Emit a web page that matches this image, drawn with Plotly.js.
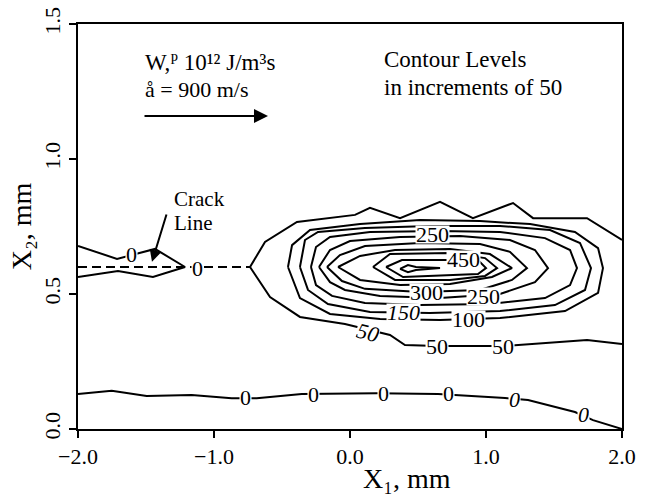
<!DOCTYPE html>
<html>
<head>
<meta charset="utf-8">
<script src="https://cdn.plot.ly/plotly-3.0.1.min.js"></script>
<style>html,body{margin:0;padding:0;background:#fff;}</style>
</head>
<body>
<div id="chart" style="width:646px;height:500px;"></div>
<script>
// ---------- data ----------
const xTickVals = [-2, -1, 0, 1, 2];
const xTickText = ["\u22122.0", "\u22121.0", "0.0", "1.0", "2.0"];
const yTickVals = [0, 0.5, 1.0, 1.5];
const yTickText = ["0.0", "0.5", "1.0", "1.5"];

// crack line (dashed)
const crackX = [-2.0, -0.735];
const crackY = [0.6, 0.6];

// contour level 0 (bottom)
const c0BottomX = [-2.0, -1.752, -1.495, -1.164, -0.87, -0.686, -0.355, 0.196, 0.647, 1.14, 1.309, 1.654, 1.787, 2.0];
const c0BottomY = [0.130, 0.142, 0.122, 0.126, 0.114, 0.114, 0.130, 0.132, 0.130, 0.115, 0.107, 0.063, 0.033, 0.0];
// contour level 0 (around crack, left)
const c0CrackX = [-2.0, -1.713, -1.434, -1.213, -1.449, -1.706, -2.0];
const c0CrackY = [0.678, 0.630, 0.667, 0.600, 0.563, 0.585, 0.563];

// contour level 50 (open at right edge)
const c50X = [2.0, 1.743, 1.346, 1.199, 0.904, 0.662, 0.368, 0.147, 0.037, -0.390, -0.625, -0.735, -0.588, -0.368, -0.037, 0.294, 0.404, 0.640, 1.125, 1.743, 2.0];
const c50Y = [0.700, 0.781, 0.781, 0.837, 0.781, 0.841, 0.781, 0.819, 0.793, 0.767, 0.693, 0.600, 0.489, 0.415, 0.389, 0.348, 0.311, 0.307, 0.307, 0.330, 0.315];

const c100X = [-0.456, -0.426, -0.294, 0.074, 0.515, 0.956, 1.324, 1.654, 1.824, 1.860, 1.824, 1.581, 1.103, 0.662, 0.221, -0.147, -0.368, -0.456];
const c100Y = [0.600, 0.681, 0.737, 0.759, 0.774, 0.770, 0.759, 0.730, 0.670, 0.596, 0.504, 0.437, 0.411, 0.404, 0.407, 0.426, 0.485, 0.600];

const c150X = [-0.368, -0.331, -0.235, 0.110, 0.588, 1.103, 1.471, 1.691, 1.772, 1.728, 1.507, 1.103, 0.588, 0.147, -0.162, -0.309, -0.368];
const c150Y = [0.600, 0.700, 0.730, 0.744, 0.752, 0.752, 0.737, 0.689, 0.596, 0.515, 0.459, 0.437, 0.430, 0.433, 0.463, 0.515, 0.600];

const c200X = [-0.287, -0.250, -0.147, 0.147, 0.662, 1.103, 1.434, 1.618, 1.669, 1.618, 1.434, 1.029, 0.515, 0.110, -0.132, -0.250, -0.287];
const c200Y = [0.600, 0.674, 0.711, 0.730, 0.733, 0.730, 0.707, 0.663, 0.596, 0.533, 0.485, 0.463, 0.459, 0.467, 0.493, 0.533, 0.600];

const c250X = [-0.228, -0.147, 0.0, 0.368, 0.809, 1.176, 1.360, 1.456, 1.360, 1.103, 0.662, 0.221, -0.037, -0.147, -0.228];
const c250Y = [0.600, 0.663, 0.696, 0.711, 0.715, 0.700, 0.663, 0.596, 0.544, 0.500, 0.485, 0.493, 0.515, 0.544, 0.600];

const c300X = [-0.169, -0.074, 0.110, 0.515, 0.956, 1.176, 1.301, 1.191, 0.956, 0.515, 0.110, -0.059, -0.169];
const c300Y = [0.600, 0.644, 0.678, 0.689, 0.685, 0.656, 0.596, 0.552, 0.515, 0.507, 0.519, 0.548, 0.600];

const c350X = [-0.088, 0.074, 0.331, 0.735, 1.029, 1.191, 1.044, 0.735, 0.368, 0.074, -0.088];
const c350Y = [0.600, 0.641, 0.663, 0.667, 0.648, 0.596, 0.563, 0.537, 0.533, 0.552, 0.600];

const c400X = [0.169, 0.294, 0.735, 0.993, 1.081, 0.993, 0.735, 0.331, 0.169];
const c400Y = [0.600, 0.648, 0.652, 0.633, 0.596, 0.567, 0.552, 0.552, 0.600];

const c450X = [0.265, 0.382, 0.941, 1.000, 0.941, 0.390, 0.265];
const c450Y = [0.600, 0.626, 0.626, 0.596, 0.574, 0.563, 0.600];

const c500X = [0.368, 0.426, 0.485, 0.662, 0.485, 0.426, 0.368];
const c500Y = [0.593, 0.607, 0.600, 0.596, 0.589, 0.581, 0.593];

// contour labels
const labelText = ["0", "0", "0", "0", "0", "0", "0", "0",
                   "50", "50", "50", "100", "150", "250", "300", "250", "450"];
const labelX = [-1.603, -1.118, -0.772, -0.272, 0.243, 0.721, 1.213, 1.72,
                0.132, 0.640, 1.125, 0.868, 0.390, 0.978, 0.566, 0.603, 0.831];
const labelY = [0.648, 0.596, 0.115, 0.126, 0.133, 0.133, 0.111, 0.052,
                0.359, 0.304, 0.304, 0.404, 0.430, 0.489, 0.507, 0.722, 0.626];

// ---------- styling ----------
const italicLabels = new Set([6, 7, 8, 12]);
const labelAngle = {8: 15};
const serif = "Liberation Serif, Times New Roman, serif";

const lineStyle = {color: "black", width: 2};
const contourSets = [
  [c0BottomX, c0BottomY], [c0CrackX, c0CrackY],
  [c50X, c50Y], [c100X, c100Y], [c150X, c150Y], [c200X, c200Y], [c250X, c250Y],
  [c300X, c300Y], [c350X, c350Y], [c400X, c400Y], [c450X, c450Y], [c500X, c500Y]
];
const traces = contourSets.map(([x, y]) => ({
  type: "scatter", mode: "lines", x: x, y: y,
  line: lineStyle, hoverinfo: "skip"
}));
traces.push({
  type: "scatter", mode: "lines", x: crackX, y: crackY,
  line: {color: "black", width: 2, dash: "9px,5px"}, hoverinfo: "skip"
});

const annotations = labelText.map((t, i) => ({
  x: labelX[i], y: labelY[i], xref: "x", yref: "y",
  text: italicLabels.has(i) ? "<i>" + t + "</i>" : t,
  showarrow: false, bgcolor: "white", borderpad: 0, height: 17,
  textangle: labelAngle[i] || 0,
  font: {family: serif, size: 22, color: "black"}
}));

const hdrFont = {family: serif, size: 23, color: "black"};
// header texts
annotations.push(
  {x: -1.522, y: 1.359, xref: "x", yref: "y", xanchor: "left", yanchor: "middle", showarrow: false,
   text: "W,\u1D3E 10\u00B9\u00B2 J/m\u00B3s", font: {family: serif, size: 23, color: "black"}},
  {x: -1.522, y: 1.259, xref: "x", yref: "y", xanchor: "left", yanchor: "middle", showarrow: false,
   text: "å = 900 m/s", font: {family: serif, size: 22, color: "black"}},
  {x: 0.235, y: 1.367, xref: "x", yref: "y", xanchor: "left", yanchor: "middle", showarrow: false,
   text: "Contour Levels", font: hdrFont},
  {x: 0.235, y: 1.263, xref: "x", yref: "y", xanchor: "left", yanchor: "middle", showarrow: false,
   text: "in increments of 50", font: hdrFont},
  {x: -1.309, y: 0.852, xref: "x", yref: "y", xanchor: "left", yanchor: "middle", showarrow: false,
   text: "Crack", font: {family: serif, size: 21, color: "black"}},
  {x: -1.309, y: 0.763, xref: "x", yref: "y", xanchor: "left", yanchor: "middle", showarrow: false,
   text: "Line", font: {family: serif, size: 21, color: "black"}},
  // direction arrow
  {x: -0.603, y: 1.159, ax: -1.522, ay: 1.159, xref: "x", yref: "y", axref: "x", ayref: "y",
   text: "", showarrow: true, arrowhead: 2, arrowsize: 1.4, arrowwidth: 2, arrowcolor: "black", standoff: 0},
  // crack line pointer
  {x: -1.456, y: 0.619, ax: -1.346, ay: 0.800, xref: "x", yref: "y", axref: "x", ayref: "y",
   text: "", showarrow: true, arrowhead: 2, arrowsize: 1.2, arrowwidth: 2, arrowcolor: "black", standoff: 0},
  // x-axis title
  {x: 0.605, y: -0.121, xref: "paper", yref: "paper", xanchor: "center", yanchor: "middle", showarrow: false,
   text: "X\u2081, mm", font: {family: serif, size: 28, color: "black"}}
);

const axisCommon = {
  showgrid: false, zeroline: false, showline: true, mirror: true,
  linewidth: 2, linecolor: "black", ticks: "outside", ticklen: 7, tickwidth: 2,
  tickcolor: "black", tickfont: {family: serif, size: 22, color: "black"}, fixedrange: true
};

const layout = {
  width: 646, height: 500,
  margin: {l: 78, r: 24, t: 24, b: 71},
  paper_bgcolor: "white", plot_bgcolor: "white",
  showlegend: false,
  font: {family: serif, color: "black"},
  xaxis: Object.assign({}, axisCommon, {
    range: [-2, 2], tickmode: "array", tickvals: xTickVals, ticktext: xTickText
  }),
  yaxis: Object.assign({}, axisCommon, {
    range: [0, 1.5], tickmode: "array", tickvals: yTickVals, ticktext: yTickText,
    tickangle: -90,
    title: {text: "X\u2082, mm", font: {family: serif, size: 28, color: "black"}, standoff: 0}
  }),
  annotations: annotations
};

Plotly.newPlot("chart", traces, layout, {staticPlot: true, displayModeBar: false});
</script>
</body>
</html>
